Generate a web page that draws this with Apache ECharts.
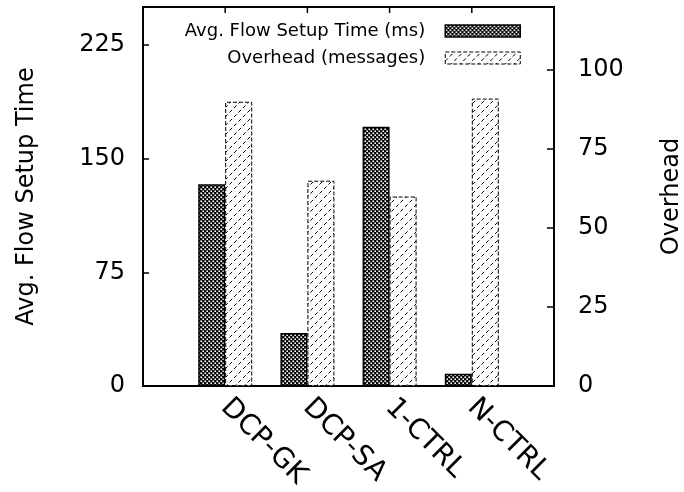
<!DOCTYPE html>
<html>
<head>
<meta charset="utf-8">
<script src="https://cdn.jsdelivr.net/npm/echarts@6/dist/echarts.min.js"></script>
<style>
html,body{margin:0;padding:0;background:#fff;}
#chart{width:684px;height:492px;}
</style>
</head>
<body>
<div id="chart"></div>
<script>
var categories = ['DCP-GK', 'DCP-SA', '1-CTRL', 'N-CTRL'];
var flowSetupTime = [133, 35, 171, 8];
var overheadMessages = [90, 65, 60, 91];
var leftTicks = [0, 75, 150, 225];
var rightTicks = [0, 25, 50, 75, 100];
var seriesNames = ['Avg. Flow Setup Time (ms)', 'Overhead (messages)'];
var leftMax = 250;
var rightMax = 120;

// padded category axis (gnuplot-like xrange -1..4)
var axisCats = [''].concat(categories).concat(['']);
var timeData = [null].concat(flowSetupTime).concat([null]);
var overData = [null].concat(overheadMessages).concat([null]);

function crossPattern() {
  var c = document.createElement('canvas');
  c.width = 4; c.height = 4;
  var g = c.getContext('2d');
  g.fillStyle = '#000';
  g.fillRect(0, 0, 4, 4);
  g.fillStyle = '#fff';
  g.fillRect(0.4, 0.4, 1.7, 1.7);
  g.fillRect(2.4, 2.4, 1.7, 1.7);
  return c;
}
function hatchPattern() {
  var s = 9;
  var c = document.createElement('canvas');
  c.width = s; c.height = s;
  var g = c.getContext('2d');
  g.fillStyle = '#fff';
  g.fillRect(0, 0, s, s);
  g.strokeStyle = '#000';
  g.lineWidth = 1;
  var L = Math.sqrt(2) * s;
  g.setLineDash([L / 2 * 0.58, L / 2 * 0.42]);
  g.beginPath();
  g.moveTo(0, s);
  g.lineTo(s, 0);
  g.stroke();
  return c;
}

var font = 'DejaVu Sans';
var chart = echarts.init(document.getElementById('chart'));
var axisLineStyle = { color: '#000', width: 1.8 };
chart.setOption({
  animation: false,
  backgroundColor: '#fff',
  textStyle: { fontFamily: font, color: '#000' },
  grid: {
    left: 143, right: 130, top: 7, bottom: 106,
    containLabel: false, outerBoundsMode: 'none',
    show: true, borderColor: '#000', borderWidth: 1.8, backgroundColor: 'transparent'
  },
  legend: {
    orient: 'vertical',
    align: 'right',
    right: 158,
    top: 17,
    itemWidth: 75,
    itemHeight: 12,
    itemGap: 9,
    icon: 'rect',
    textStyle: { fontFamily: font, fontSize: 18, color: '#000', padding: [0, 15, 0, 0] },
    data: [
      { name: seriesNames[0], itemStyle: { borderColor: '#000', borderWidth: 1.5, borderType: 'solid' } },
      { name: seriesNames[1], itemStyle: { borderColor: '#000', borderWidth: 1, borderType: [4, 2] } }
    ]
  },
  xAxis: [
    {
      type: 'category',
      data: axisCats,
      boundaryGap: false,
      position: 'bottom',
      axisLine: { show: true, onZero: false, lineStyle: axisLineStyle },
      axisTick: { show: false },
      axisLabel: { rotate: -45, interval: 0, margin: 17, fontSize: 28, color: '#000', fontFamily: font }
    }
  ],
  yAxis: [
    {
      type: 'value',
      min: leftTicks[0],
      max: leftMax,
      interval: leftTicks[1] - leftTicks[0],
      position: 'left',
      name: 'Avg. Flow Setup Time',
      nameLocation: 'middle',
      nameRotate: 90,
      nameGap: 104,
      nameTextStyle: { fontSize: 24, color: '#000', fontFamily: font },
      axisLine: { show: true, onZero: false, lineStyle: axisLineStyle },
      axisTick: { show: true, inside: true, length: 6, lineStyle: { color: '#000', width: 1.5 } },
      axisLabel: { margin: 18, fontSize: 24, color: '#000', fontFamily: font, showMaxLabel: false },
      splitLine: { show: false }
    },
    {
      type: 'value',
      min: rightTicks[0],
      max: rightMax,
      interval: rightTicks[1] - rightTicks[0],
      position: 'right',
      name: 'Overhead',
      nameLocation: 'middle',
      nameRotate: 90,
      nameGap: 106,
      nameTextStyle: { fontSize: 24, color: '#000', fontFamily: font },
      axisLine: { show: true, onZero: false, lineStyle: axisLineStyle },
      axisTick: { show: true, inside: true, length: 7, lineStyle: { color: '#000', width: 1.5 } },
      axisLabel: { margin: 24, fontSize: 24, color: '#000', fontFamily: font, showMaxLabel: false },
      splitLine: { show: false }
    }
  ],
  series: [
    {
      name: seriesNames[0],
      type: 'bar',
      xAxisIndex: 0,
      yAxisIndex: 0,
      data: timeData,
      barWidth: 27,
      barGap: '0%',
      itemStyle: {
        color: { image: crossPattern(), repeat: 'repeat' },
        borderColor: '#000',
        borderWidth: 1.5
      }
    },
    {
      name: seriesNames[1],
      type: 'bar',
      xAxisIndex: 0,
      yAxisIndex: 1,
      data: overData,
      barWidth: 27,
      barGap: '0%',
      itemStyle: {
        color: { image: hatchPattern(), repeat: 'repeat' },
        borderColor: '#000',
        borderWidth: 1,
        borderType: [4, 2]
      }
    }
  ]
});

// inward tick marks on the top border, placed through the chart's own scales
var tickElems = categories.map(function (c) {
  var top = chart.convertToPixel({ xAxisIndex: 0, yAxisIndex: 0 }, [c, leftMax]);
  return {
    type: 'line',
    silent: true,
    z: 100,
    shape: { x1: top[0], y1: top[1], x2: top[0], y2: top[1] + 6 },
    style: { stroke: '#000', lineWidth: 1.5 }
  };
});
chart.setOption({ graphic: { elements: tickElems } });
</script>
</body>
</html>
